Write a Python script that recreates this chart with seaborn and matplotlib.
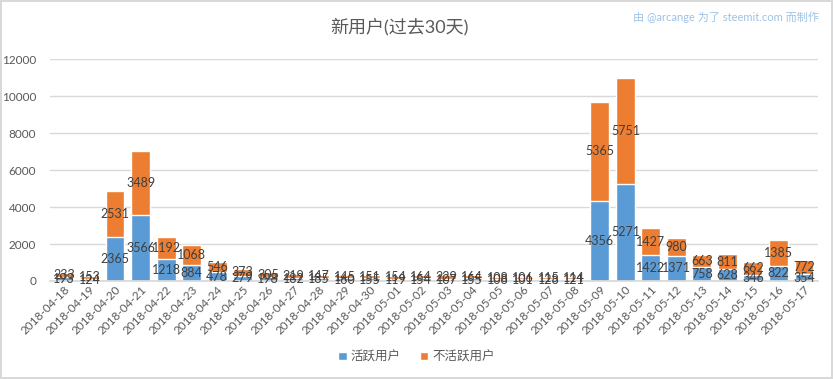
import pandas as pd
import matplotlib.pyplot as plt
import seaborn as sns

# Data
dates = ['2018-04-18', '2018-04-19', '2018-04-20', '2018-04-21', '2018-04-22', '2018-04-23',
         '2018-04-24', '2018-04-25', '2018-04-26', '2018-04-27', '2018-04-28', '2018-04-29',
         '2018-04-30', '2018-05-01', '2018-05-02', '2018-05-03', '2018-05-04', '2018-05-05',
         '2018-05-06', '2018-05-07', '2018-05-08', '2018-05-09', '2018-05-10', '2018-05-11',
         '2018-05-12', '2018-05-13', '2018-05-14', '2018-05-15', '2018-05-16', '2018-05-17']
active = [193, 124, 2365, 3566, 1218, 884, 478, 279, 198, 182, 185, 160, 155, 119, 154,
          107, 155, 108, 101, 128, 121, 4356, 5271, 1422, 1371, 758, 628, 346, 822, 354]
inactive = [233, 153, 2531, 3489, 1192, 1068, 546, 373, 305, 219, 147, 145, 151, 154, 164,
            229, 164, 108, 106, 115, 114, 5365, 5751, 1427, 980, 663, 811, 662, 1385, 772]

data = pd.DataFrame({'date': dates, 'active': active, 'inactive': inactive})
data['total'] = data['active'] + data['inactive']

sns.set_theme(style='white')
plt.rcParams['font.family'] = ['Lato', 'Noto Sans CJK SC', 'DejaVu Sans']

blue = '#5B9BD5'
orange = '#ED7D31'
text_col = '#404040'

fig = plt.figure(figsize=(8.33, 3.79), dpi=100)
fig.patch.set_edgecolor('#D9D9D9')
fig.patch.set_linewidth(1.5)
ax = fig.add_axes([0.060, 0.2586, 0.922, 0.5845])

# stacked bars: total in orange, active on top of it in blue
sns.barplot(data=data, x='date', y='total', color=orange, width=0.74, saturation=1,
            ax=ax, label='不活跃用户')
sns.barplot(data=data, x='date', y='active', color=blue, width=0.74, saturation=1,
            ax=ax, label='活跃用户')
handles, labels = ax.get_legend_handles_labels()
if ax.get_legend() is not None:
    ax.get_legend().remove()

# segment labels
for i, row in data.iterrows():
    ax.text(i, row['active'] / 2, str(row['active']), ha='center', va='center',
            fontsize=9, color=text_col)
    ax.text(i, row['active'] + row['inactive'] / 2, str(row['inactive']), ha='center',
            va='center', fontsize=9, color=text_col)

ax.set_xlim(-0.55, 29.55)
ax.set_ylim(0, 12000)
ax.set_yticks(range(0, 12001, 2000))
ax.yaxis.grid(True, color='#D9D9D9', linewidth=1)
ax.set_axisbelow(True)
for s in ['top', 'right', 'left']:
    ax.spines[s].set_visible(False)
ax.spines['bottom'].set_color('#D9D9D9')
ax.tick_params(axis='y', labelsize=8.5, labelcolor='#595959', length=0, pad=10)
ax.tick_params(axis='x', labelsize=8.5, labelcolor='#595959', length=0, pad=2)
plt.setp(ax.get_xticklabels(), rotation=45, ha='right', rotation_mode='anchor')
ax.set_xlabel('')
ax.set_ylabel('')

# legend in order: active then inactive
order = [labels.index('活跃用户'), labels.index('不活跃用户')]
fig.legend([handles[k] for k in order], [labels[k] for k in order], loc='center',
           bbox_to_anchor=(0.5, 0.06), ncol=2, frameon=False, fontsize=9,
           handlelength=0.7, handleheight=0.7, handletextpad=0.3, columnspacing=1.5,
           labelcolor='#595959')

fig.text(0.48, 0.93, '新用户(过去30天)', ha='center', va='center', fontsize=13,
         color='#595959')
fig.text(0.983, 0.955, '由 @arcange 为了 steemit.com 而制作', ha='right', va='center',
         fontsize=8, color='#9DC3E6')

fig.savefig('out.png', dpi=100)
